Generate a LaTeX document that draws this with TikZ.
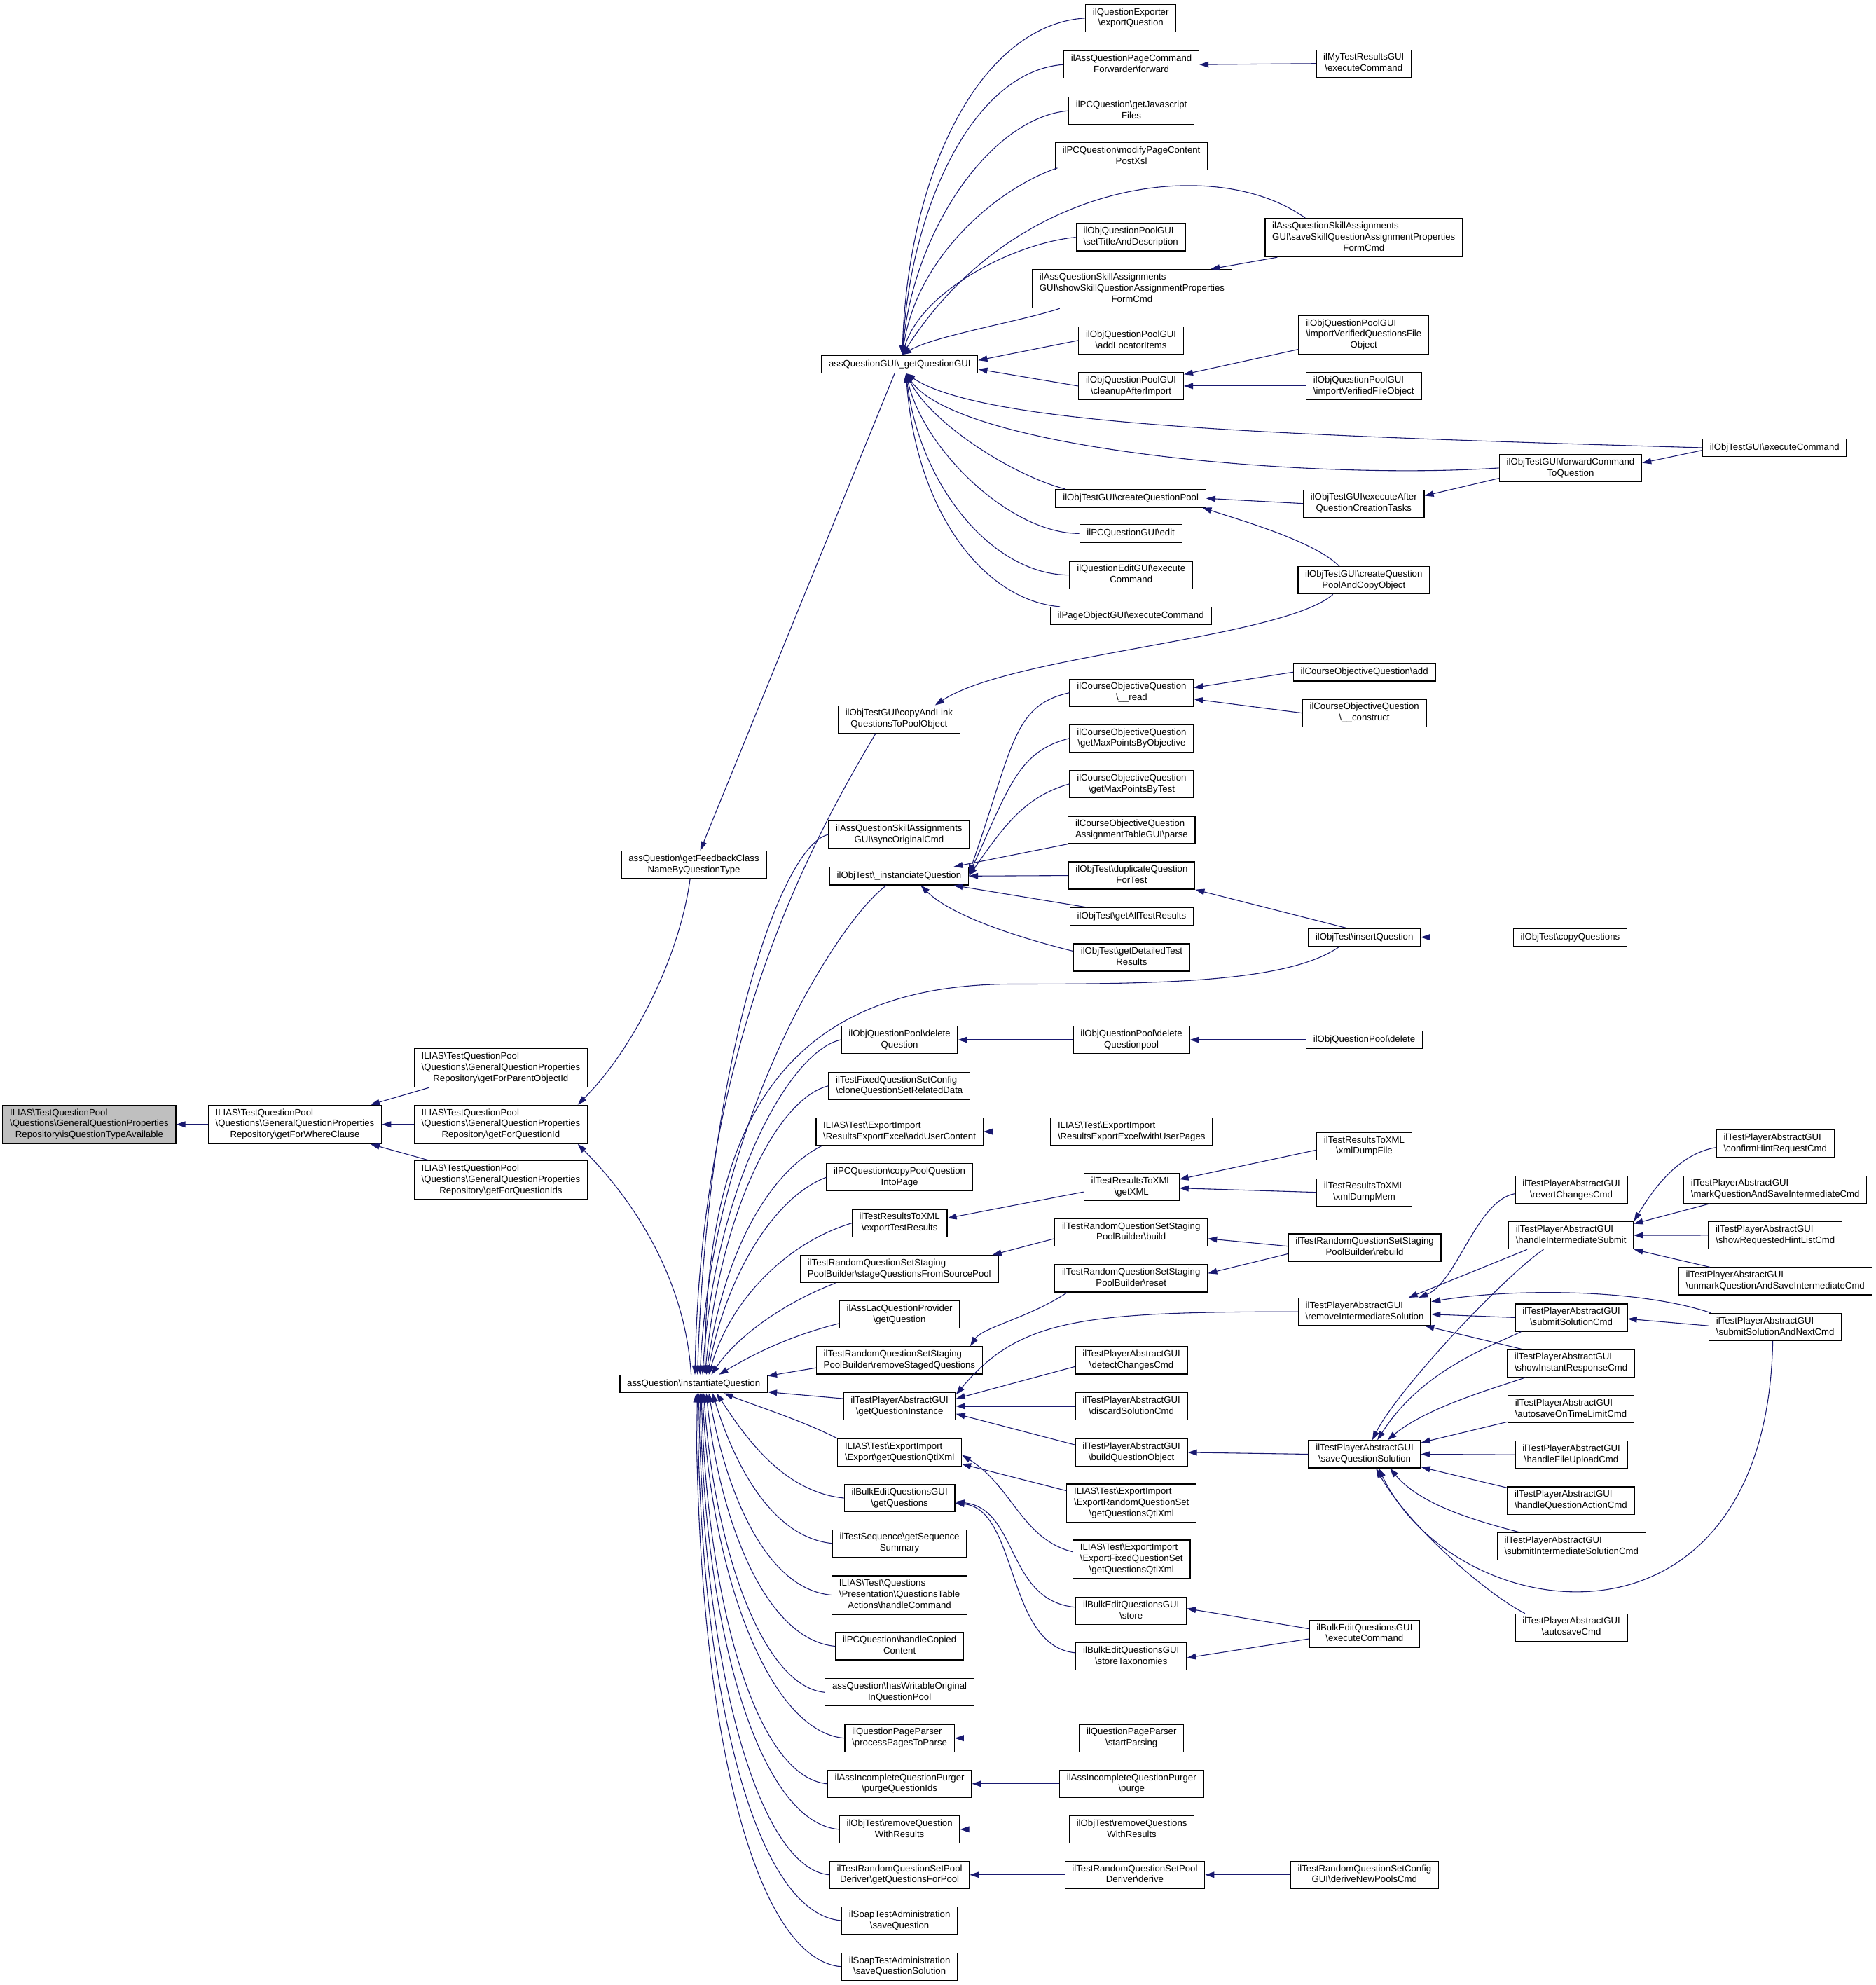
\documentclass[tikz,border=0pt]{standalone}
\usepackage{fontspec}
\setmainfont{Liberation Sans}
\usetikzlibrary{arrows.meta,calc}
\definecolor{edgec}{HTML}{191970}
\definecolor{rootc}{HTML}{BFBFBF}
\newcommand\bsl{\textbackslash}
\newcommand\twol[2]{\begin{tabular}{@{}l@{}}#1\\\multicolumn{1}{@{}c@{}}{#2}\end{tabular}}
\newcommand\threel[3]{\begin{tabular}{@{}l@{}}#1\\#2\\\multicolumn{1}{@{}c@{}}{#3}\end{tabular}}
\tikzset{
  fn/.style={draw=black, fill=white, line width=0.7pt, font=\fontsize{7.3}{8.8}\selectfont,
    inner xsep=5.7pt, inner ysep=2pt, minimum height=14pt},
  root/.style={fn, fill=rootc},
  e/.style={draw=edgec, line width=0.6pt, -{Triangle[length=7.2pt,width=4.8pt]}},
}
\begin{document}
\begin{tikzpicture}[x=1pt,y=-1pt]
\useasboundingbox (0,0) rectangle (1481,1567.3);

% ---------- left part
\node[root] (n0) at (70.5,887.8) {\threel{ILIAS\bsl{}TestQuestionPool}{\bsl{}Questions\bsl{}GeneralQuestionProperties}{Repository\bsl{}isQuestionTypeAvailable}};
\node[fn] (n1) at (232.9,887.8) {\threel{ILIAS\bsl{}TestQuestionPool}{\bsl{}Questions\bsl{}GeneralQuestionProperties}{Repository\bsl{}getForWhereClause}};
\node[fn] (n2a) at (395.5,843.2) {\threel{ILIAS\bsl{}TestQuestionPool}{\bsl{}Questions\bsl{}GeneralQuestionProperties}{Repository\bsl{}getForParentObjectId}};
\node[fn] (n2b) at (395.5,887.8) {\threel{ILIAS\bsl{}TestQuestionPool}{\bsl{}Questions\bsl{}GeneralQuestionProperties}{Repository\bsl{}getForQuestionId}};
\node[fn] (n2c) at (395.5,931.7) {\threel{ILIAS\bsl{}TestQuestionPool}{\bsl{}Questions\bsl{}GeneralQuestionProperties}{Repository\bsl{}getForQuestionIds}};
\node[fn] (fb) at (548,682.7) {\twol{assQuestion\bsl{}getFeedbackClass}{NameByQuestionType}};
\node[fn] (inst) at (547.8,1092.7) {assQuestion\bsl{}instantiateQuestion};
\node[fn] (q) at (710.5,287.5) {assQuestionGUI\bsl{}\_getQuestionGUI};

% ---------- callers of _getQuestionGUI
\node[fn] (exq) at (893,14.3) {\twol{ilQuestionExporter}{\bsl{}exportQuestion}};
\node[fn] (fwd) at (893.5,51) {\twol{ilAssQuestionPageCommand}{Forwarder\bsl{}forward}};
\node[fn] (mytr) at (1077,50.2) {\twol{ilMyTestResultsGUI}{\bsl{}executeCommand}};
\node[fn] (js) at (893.5,87.5) {\twol{ilPCQuestion\bsl{}getJavascript}{Files}};
\node[fn] (mpc) at (893.5,123.5) {\twol{ilPCQuestion\bsl{}modifyPageContent}{PostXsl}};
\node[fn] (sss) at (1077,187.6) {\threel{ilAssQuestionSkillAssignments}{GUI\bsl{}saveSkillQuestionAssignmentProperties}{FormCmd}};
\node[fn] (std) at (893,187.3) {\twol{ilObjQuestionPoolGUI}{\bsl{}setTitleAndDescription}};
\node[fn] (shs) at (894,228) {\threel{ilAssQuestionSkillAssignments}{GUI\bsl{}showSkillQuestionAssignmentProperties}{FormCmd}};
\node[fn] (ali) at (893.2,268.8) {\twol{ilObjQuestionPoolGUI}{\bsl{}addLocatorItems}};
\node[fn] (cai) at (893.2,304.8) {\twol{ilObjQuestionPoolGUI}{\bsl{}cleanupAfterImport}};
\node[fn] (ivq) at (1077,264.3) {\threel{ilObjQuestionPoolGUI}{\bsl{}importVerifiedQuestionsFile}{Object}};
\node[fn] (ivf) at (1077,304.8) {\twol{ilObjQuestionPoolGUI}{\bsl{}importVerifiedFileObject}};
\node[fn] (otec) at (1401.5,353.5) {ilObjTestGUI\bsl{}executeCommand};
\node[fn] (fctq) at (1240.3,369.5) {\twol{ilObjTestGUI\bsl{}forwardCommand}{ToQuestion}};
\node[fn] (cqp) at (893,393.5) {ilObjTestGUI\bsl{}createQuestionPool};
\node[fn] (eaq) at (1077,397.6) {\twol{ilObjTestGUI\bsl{}executeAfter}{QuestionCreationTasks}};
\node[fn] (pce) at (893,421.2) {ilPCQuestionGUI\bsl{}edit};
\node[fn] (qec) at (893.3,454) {\twol{ilQuestionEditGUI\bsl{}execute}{Command}};
\node[fn] (poc) at (893,486.4) {ilPageObjectGUI\bsl{}executeCommand};
\node[fn] (cqpc) at (1077,458.2) {\twol{ilObjTestGUI\bsl{}createQuestion}{PoolAndCopyObject}};

% ---------- middle column
\node[fn] (cal) at (710,568) {\twol{ilObjTestGUI\bsl{}copyAndLink}{QuestionsToPoolObject}};
\node[fn] (soc) at (710,659) {\twol{ilAssQuestionSkillAssignments}{GUI\bsl{}syncOriginalCmd}};
\node[fn] (iqObj) at (710,691.7) {ilObjTest\bsl{}\_instanciateQuestion};
\node[fn] (rd) at (893.7,547) {\twol{ilCourseObjectiveQuestion}{\bsl{}\_\_read}};
\node[fn] (mpo) at (893.7,583) {\twol{ilCourseObjectiveQuestion}{\bsl{}getMaxPointsByObjective}};
\node[fn] (mpt) at (893.7,619) {\twol{ilCourseObjectiveQuestion}{\bsl{}getMaxPointsByTest}};
\node[fn] (atp) at (893.7,655.3) {\twol{ilCourseObjectiveQuestion}{AssignmentTableGUI\bsl{}parse}};
\node[fn] (dqt) at (893.7,691.3) {\twol{ilObjTest\bsl{}duplicateQuestion}{ForTest}};
\node[fn] (atr) at (893.7,723.8) {ilObjTest\bsl{}getAllTestResults};
\node[fn] (dtr) at (893.7,756) {\twol{ilObjTest\bsl{}getDetailedTest}{Results}};
\node[fn] (cadd) at (1077.5,530.7) {ilCourseObjectiveQuestion\bsl{}add};
\node[fn] (ccon) at (1077.5,563) {\twol{ilCourseObjectiveQuestion}{\bsl{}\_\_construct}};
\node[fn] (insq) at (1077.5,740) {ilObjTest\bsl{}insertQuestion};
\node[fn] (cpq) at (1240,740) {ilObjTest\bsl{}copyQuestions};

\node[fn] (dq) at (710.4,821) {\twol{ilObjQuestionPool\bsl{}delete}{Question}};
\node[fn] (dqp) at (893.5,821) {\twol{ilObjQuestionPool\bsl{}delete}{Questionpool}};
\node[fn] (qpd) at (1077.4,821) {ilObjQuestionPool\bsl{}delete};
\node[fn] (cqs) at (710.2,857.4) {\twol{ilTestFixedQuestionSetConfig}{\bsl{}cloneQuestionSetRelatedData}};
\node[fn] (auc) at (710.4,893.5) {\twol{ILIAS\bsl{}Test\bsl{}ExportImport}{\bsl{}ResultsExportExcel\bsl{}addUserContent}};
\node[fn] (wup) at (893.6,893.5) {\twol{ILIAS\bsl{}Test\bsl{}ExportImport}{\bsl{}ResultsExportExcel\bsl{}withUserPages}};
\node[fn] (cpqi) at (710.4,929.6) {\twol{ilPCQuestion\bsl{}copyPoolQuestion}{IntoPage}};
\node[fn] (etr) at (710.4,965.8) {\twol{ilTestResultsToXML}{\bsl{}exportTestResults}};
\node[fn] (gx) at (893.6,937.1) {\twol{ilTestResultsToXML}{\bsl{}getXML}};
\node[fn] (xdf) at (1077.4,905) {\twol{ilTestResultsToXML}{\bsl{}xmlDumpFile}};
\node[fn] (xdm) at (1077.4,941.4) {\twol{ilTestResultsToXML}{\bsl{}xmlDumpMem}};
\node[fn] (sqs) at (710.2,1002) {\twol{ilTestRandomQuestionSetStaging}{PoolBuilder\bsl{}stageQuestionsFromSourcePool}};
\node[fn] (bld) at (893.3,973) {\twol{ilTestRandomQuestionSetStaging}{PoolBuilder\bsl{}build}};
\node[fn] (rbl) at (1077.7,985) {\twol{ilTestRandomQuestionSetStaging}{PoolBuilder\bsl{}rebuild}};
\node[fn] (rst) at (893.3,1009.4) {\twol{ilTestRandomQuestionSetStaging}{PoolBuilder\bsl{}reset}};
\node[fn] (lqp) at (710.4,1038) {\twol{ilAssLacQuestionProvider}{\bsl{}getQuestion}};
\node[fn] (rsq) at (710.3,1074) {\twol{ilTestRandomQuestionSetStaging}{PoolBuilder\bsl{}removeStagedQuestions}};
\node[fn] (gqi) at (710.4,1110.3) {\twol{ilTestPlayerAbstractGUI}{\bsl{}getQuestionInstance}};
\node[fn] (dcc) at (893.5,1074) {\twol{ilTestPlayerAbstractGUI}{\bsl{}detectChangesCmd}};
\node[fn] (dsc) at (893.5,1110.3) {\twol{ilTestPlayerAbstractGUI}{\bsl{}discardSolutionCmd}};
\node[fn] (bqo) at (893.5,1146.8) {\twol{ilTestPlayerAbstractGUI}{\bsl{}buildQuestionObject}};
\node[fn] (gqq) at (710.4,1146.8) {\twol{ILIAS\bsl{}Test\bsl{}ExportImport}{\bsl{}Export\bsl{}getQuestionQtiXml}};
\node[fn] (erq) at (893.6,1187) {\threel{ILIAS\bsl{}Test\bsl{}ExportImport}{\bsl{}ExportRandomQuestionSet}{\bsl{}getQuestionsQtiXml}};
\node[fn] (efq) at (893.6,1231.2) {\threel{ILIAS\bsl{}Test\bsl{}ExportImport}{\bsl{}ExportFixedQuestionSet}{\bsl{}getQuestionsQtiXml}};
\node[fn] (bgq) at (710.4,1182.8) {\twol{ilBulkEditQuestionsGUI}{\bsl{}getQuestions}};
\node[fn] (gss) at (710.4,1218.6) {\twol{ilTestSequence\bsl{}getSequence}{Summary}};
\node[fn] (hc) at (710.4,1259.4) {\threel{ILIAS\bsl{}Test\bsl{}Questions}{\bsl{}Presentation\bsl{}QuestionsTable}{Actions\bsl{}handleCommand}};
\node[fn] (hcc) at (710.4,1299.8) {\twol{ilPCQuestion\bsl{}handleCopied}{Content}};
\node[fn] (hwo) at (710.4,1336.2) {\twol{assQuestion\bsl{}hasWritableOriginal}{InQuestionPool}};
\node[fn] (ppp) at (710.4,1372.4) {\twol{ilQuestionPageParser}{\bsl{}processPagesToParse}};
\node[fn] (sp) at (893.6,1372.4) {\twol{ilQuestionPageParser}{\bsl{}startParsing}};
\node[fn] (pqi) at (710.4,1408.4) {\twol{ilAssIncompleteQuestionPurger}{\bsl{}purgeQuestionIds}};
\node[fn] (pur) at (893.6,1408.4) {\twol{ilAssIncompleteQuestionPurger}{\bsl{}purge}};
\node[fn] (rqw) at (710.4,1444.4) {\twol{ilObjTest\bsl{}removeQuestion}{WithResults}};
\node[fn] (rqsw) at (893.8,1444.4) {\twol{ilObjTest\bsl{}removeQuestions}{WithResults}};
\node[fn] (gqp) at (710.4,1480.3) {\twol{ilTestRandomQuestionSetPool}{Deriver\bsl{}getQuestionsForPool}};
\node[fn] (der) at (896.2,1480.3) {\twol{ilTestRandomQuestionSetPool}{Deriver\bsl{}derive}};
\node[fn] (dnp) at (1077.6,1480.3) {\twol{ilTestRandomQuestionSetConfig}{GUI\bsl{}deriveNewPoolsCmd}};
\node[fn] (stq) at (710.4,1516.4) {\twol{ilSoapTestAdministration}{\bsl{}saveQuestion}};
\node[fn] (sqsl) at (710.4,1552.8) {\twol{ilSoapTestAdministration}{\bsl{}saveQuestionSolution}};
\node[fn] (bst) at (893.3,1272) {\twol{ilBulkEditQuestionsGUI}{\bsl{}store}};
\node[fn] (bstt) at (893.3,1308) {\twol{ilBulkEditQuestionsGUI}{\bsl{}storeTaxonomies}};
\node[fn] (bec) at (1077.6,1290) {\twol{ilBulkEditQuestionsGUI}{\bsl{}executeCommand}};

% ---------- player part
\node[fn] (ris) at (1077.7,1035.7) {\twol{ilTestPlayerAbstractGUI}{\bsl{}removeIntermediateSolution}};
\node[fn] (sqsol) at (1077.7,1148.2) {\twol{ilTestPlayerAbstractGUI}{\bsl{}saveQuestionSolution}};
\node[fn] (rcc) at (1240.9,939.5) {\twol{ilTestPlayerAbstractGUI}{\bsl{}revertChangesCmd}};
\node[fn] (his) at (1240.7,975.4) {\twol{ilTestPlayerAbstractGUI}{\bsl{}handleIntermediateSubmit}};
\node[fn] (ssc) at (1240.9,1040.3) {\twol{ilTestPlayerAbstractGUI}{\bsl{}submitSolutionCmd}};
\node[fn] (sir) at (1240.6,1076.4) {\twol{ilTestPlayerAbstractGUI}{\bsl{}showInstantResponseCmd}};
\node[fn] (aot) at (1240.6,1112.5) {\twol{ilTestPlayerAbstractGUI}{\bsl{}autosaveOnTimeLimitCmd}};
\node[fn] (hfu) at (1240.9,1148.6) {\twol{ilTestPlayerAbstractGUI}{\bsl{}handleFileUploadCmd}};
\node[fn] (hqa) at (1240.6,1184.8) {\twol{ilTestPlayerAbstractGUI}{\bsl{}handleQuestionActionCmd}};
\node[fn] (sis) at (1241,1221) {\twol{ilTestPlayerAbstractGUI}{\bsl{}submitIntermediateSolutionCmd}};
\node[fn] (asc) at (1240.9,1285) {\twol{ilTestPlayerAbstractGUI}{\bsl{}autosaveCmd}};
\node[fn] (chr) at (1402,903) {\twol{ilTestPlayerAbstractGUI}{\bsl{}confirmHintRequestCmd}};
\node[fn] (mqs) at (1402,939.2) {\twol{ilTestPlayerAbstractGUI}{\bsl{}markQuestionAndSaveIntermediateCmd}};
\node[fn] (srh) at (1402,975.3) {\twol{ilTestPlayerAbstractGUI}{\bsl{}showRequestedHintListCmd}};
\node[fn] (uqs) at (1402,1011.6) {\twol{ilTestPlayerAbstractGUI}{\bsl{}unmarkQuestionAndSaveIntermediateCmd}};
\node[fn] (ssn) at (1402,1047.8) {\twol{ilTestPlayerAbstractGUI}{\bsl{}submitSolutionAndNextCmd}};

% ================= edges
% root area
\draw[e] (n1.west) -- (n0.east);
\draw[e] ($(n2a.south west)+(12,0)$) -- ($(n1.north east)+(-9,0)$);
\draw[e] (n2b.west) -- (n1.east);
\draw[e] ($(n2c.north west)+(12,0)$) -- ($(n1.south east)+(-9,0)$);
\draw[e] ($(fb.south)+(-3,0)$) .. controls +(-8,60) and +(45,-45) .. ($(n2b.north east)+(-8,0)$);
\draw[e] ($(inst.north)+(-2,0)$) .. controls +(-5,-80) and +(40,40) .. ($(n2b.south east)+(-8,0)$);
\draw[e] ($(q.south)+(-4,0)$) -- ($(fb.north)+(5,0)$);

% to _getQuestionGUI
\coordinate (qt) at ($(q.north)+(2,0)$);
\coordinate (qb) at ($(q.south)+(5,0)$);
\draw[e] (exq.west) .. controls +(-80,5) and +(5,-150) .. (qt);
\draw[e] (fwd.west) .. controls +(-70,5) and +(7,-120) .. (qt);
\draw[e] (js.west) .. controls +(-60,5) and +(9,-100) .. (qt);
\draw[e] ($(mpc.south west)+(2,-2)$) .. controls +(-45,15) and +(12,-80) .. (qt);
\draw[e] ($(sss.north west)+(32,0)$) .. controls +(-70,-50) and +(90,-140) .. (qt);
\draw[e] (std.west) .. controls +(-50,5) and +(15,-50) .. (qt);
\draw[e] ($(shs.south west)+(22,0)$) .. controls +(-30,10) and +(25,-15) .. (qt);
\draw[e] (ali.west) -- ($(q.east)+(0,-3)$);
\draw[e] (cai.west) -- ($(q.east)+(0,4)$);
\draw[e] (otec.west) .. controls +(-350,-10) and +(60,40) .. (qb);
\draw[e] (fctq.west) .. controls +(-150,10) and +(40,60) .. (qb);
\draw[e] ($(cqp.north west)+(8,0)$) .. controls +(-40,-10) and +(20,40) .. (qb);
\draw[e] (pce.west) .. controls +(-55,0) and +(14,60) .. (qb);
\draw[e] (qec.west) .. controls +(-60,0) and +(11,90) .. (qb);
\draw[e] ($(poc.north west)+(8,0)$) .. controls +(-60,-5) and +(8,110) .. (qb);

\draw[e] (mytr.west) -- (fwd.east);
\draw[e] ($(sss.south west)+(10,0)$) -- ($(shs.north east)+(-17,0)$);
\draw[e] ($(ivq.south west)+(0,-4)$) -- ($(cai.north east)+(0,2)$);
\draw[e] (ivf.west) -- (cai.east);
\draw[e] ($(otec.west)+(0,2)$) -- ($(fctq.east)+(0,-4)$);
\draw[e] ($(fctq.south west)+(0,-3)$) -- ($(eaq.north east)+(0,5)$);
\draw[e] (eaq.west) -- (cqp.east);
\draw[e] ($(cqpc.north west)+(33,0)$) .. controls +(-20,-20) and +(30,10) .. ($(cqp.south east)+(-3,0)$);
\draw[e] ($(cqpc.south west)+(28,0)$) .. controls +(-40,35) and +(60,-40) .. ($(cal.north east)+(-20,0)$);

% to _instanciateQuestion
\draw[e] (rd.west) .. controls +(-45,10) and +(35,-100) .. ($(iqObj.east)+(0,-2)$);
\draw[e] (mpo.west) .. controls +(-40,10) and +(32,-70) .. ($(iqObj.east)+(0,-1)$);
\draw[e] (mpt.west) .. controls +(-35,10) and +(28,-40) .. (iqObj.east);
\draw[e] (atp.south west) -- ($(iqObj.north east)+(-12,0)$);
\draw[e] (dqt.west) -- (iqObj.east);
\draw[e] ($(atr.north west)+(14,0)$) -- ($(iqObj.south east)+(-12,0)$);
\draw[e] ($(dtr.west)+(0,-5)$) .. controls +(-40,-10) and +(25,25) .. ($(iqObj.south east)+(-38,0)$);
\draw[e] (cadd.west) -- ($(rd.east)+(0,-4)$);
\draw[e] (ccon.west) -- ($(rd.east)+(0,5)$);
\draw[e] ($(insq.north west)+(30,0)$) -- (dqt.south east);
\draw[e] (cpq.west) -- (insq.east);
\coordinate (via1) at (800,777);
\draw[e] ($(insq.south west)+(25,0)$) .. controls +(-40,28) and +(120,0) .. (via1) .. controls +(-180,0) and +(0,-200) .. ($(inst.north)+(9,0)$);

% to instantiateQuestion, from above
\draw[e] ($(cal.south west)+(30,0)$) .. controls +(-60,100) and +(5,-250) .. ($(inst.north)+(1,0)$);
\draw[e] (soc.west) .. controls +(-37,8) and +(8,-250) .. ($(inst.north)+(3,0)$);
\draw[e] ($(iqObj.south)+(-10,0)$) .. controls +(-40,30) and +(10,-200) .. ($(inst.north)+(5,0)$);
\draw[e] (dq.west) .. controls +(-40,8) and +(10,-150) .. ($(inst.north)+(7,0)$);
\draw[e] (cqs.west) .. controls +(-40,10) and +(12,-130) .. ($(inst.north)+(9,0)$);
\draw[e] ($(auc.south west)+(5,0)$) .. controls +(-40,20) and +(14,-100) .. ($(inst.north)+(10,0)$);
\draw[e] (cpqi.west) .. controls +(-40,15) and +(15,-80) .. ($(inst.north)+(11,0)$);
\draw[e] (etr.west) .. controls +(-50,15) and +(17,-60) .. ($(inst.north)+(12,0)$);
\draw[e] ($(sqs.south west)+(28,0)$) .. controls +(-40,15) and +(20,-30) .. ($(inst.north)+(14,0)$);
\draw[e] ($(lqp.west)+(0,7)$) .. controls +(-40,10) and +(25,-15) .. ($(inst.north)+(20,0)$);
\draw[e] ($(rsq.west)+(0,6)$) -- ($(inst.north east)+(0,1)$);
\draw[e] ($(gqi.west)+(0,-6)$) -- ($(inst.south east)+(0,-1)$);
% from below
\draw[e] (gqq.north west) .. controls +(-30,-15) and +(25,10) .. ($(inst.south)+(24,0)$);
\draw[e] (bgq.west) .. controls +(-50,-5) and +(20,30) .. ($(inst.south)+(18,0)$);
\draw[e] (gss.west) .. controls +(-50,-5) and +(15,50) .. ($(inst.south)+(15,0)$);
\draw[e] (hc.west) .. controls +(-55,-5) and +(12,70) .. ($(inst.south)+(12,0)$);
\draw[e] (hcc.west) .. controls +(-55,-5) and +(10,100) .. ($(inst.south)+(10,0)$);
\draw[e] (hwo.west) .. controls +(-50,-5) and +(8,120) .. ($(inst.south)+(8,0)$);
\draw[e] (ppp.west) .. controls +(-60,-5) and +(6,140) .. ($(inst.south)+(7,0)$);
\draw[e] (pqi.west) .. controls +(-55,-5) and +(5,170) .. ($(inst.south)+(6,0)$);
\draw[e] (rqw.west) .. controls +(-60,-5) and +(4,200) .. ($(inst.south)+(5,0)$);
\draw[e] (gqp.west) .. controls +(-55,-5) and +(3,220) .. ($(inst.south)+(4,0)$);
\draw[e] (stq.west) .. controls +(-65,-5) and +(2,250) .. ($(inst.south)+(3,0)$);
\draw[e] (sqsl.west) .. controls +(-65,-5) and +(1,280) .. ($(inst.south)+(2,0)$);

% middle chains
\draw[e] (dqp.west) -- (dq.east);
\draw[e] (qpd.west) -- (dqp.east);
\draw[e] (wup.west) -- (auc.east);
\draw[e] ($(gx.west)+(0,4)$) -- ($(etr.east)+(0,-4)$);
\draw[e] ($(xdf.west)+(0,3)$) -- ($(gx.east)+(0,-6)$);
\draw[e] (xdm.west) -- ($(gx.east)+(0,1)$);
\draw[e] ($(bld.west)+(0,5)$) -- ($(sqs.north east)+(-5,0)$);
\draw[e] ($(rbl.west)+(0,-1)$) -- ($(bld.east)+(0,5)$);
\draw[e] ($(rbl.west)+(0,5)$) -- ($(rst.east)+(0,-4)$);
\draw[e] ($(rst.south west)+(10,0)$) .. controls +(-30,20) and +(10,-15) .. ($(rsq.north east)+(-10,0)$);
\draw[e] (ris.west) .. controls +(-170,0) and +(50,-60) .. ($(gqi.north east)+(0,2)$);
\draw[e] ($(dcc.west)+(0,5)$) -- ($(gqi.east)+(0,-6)$);
\draw[e] (dsc.west) -- (gqi.east);
\draw[e] ($(bqo.west)+(0,-6)$) -- ($(gqi.east)+(0,6)$);
\draw[e] (sqsol.west) -- (bqo.east);
\draw[e] ($(erq.west)+(0,-10)$) -- ($(gqq.south east)+(0,-2)$);
\draw[e] ($(efq.west)+(0,-6)$) .. controls +(-40,-10) and +(40,25) .. ($(gqq.east)+(0,2)$);
\draw[e] ($(bst.west)+(0,-3)$) .. controls +(-55,-5) and +(50,5) .. ($(bgq.east)+(0,3)$);
\draw[e] ($(bstt.west)+(0,-3)$) .. controls +(-55,-5) and +(50,5) .. ($(bgq.east)+(0,4)$);
\draw[e] ($(bec.west)+(0,-4)$) -- ($(bst.east)+(0,-2)$);
\draw[e] ($(bec.west)+(0,4)$) -- ($(bstt.east)+(0,1)$);
\draw[e] (sp.west) -- (ppp.east);
\draw[e] (pur.west) -- (pqi.east);
\draw[e] (rqsw.west) -- (rqw.east);
\draw[e] (der.west) -- (gqp.east);
\draw[e] (dnp.west) -- (der.east);

% player
\draw[e] ($(rcc.west)+(0,3)$) .. controls +(-30,5) and +(30,-12) .. ($(ris.north east)+(-10,0)$);
\draw[e] ($(his.south west)+(15,0)$) -- ($(ris.north east)+(-18,0)$);
\draw[e] ($(his.south west)+(28,0)$) .. controls +(-30,20) and +(20,-40) .. ($(sqsol.north)+(6,0)$);
\draw[e] ($(ssn.north west)+(2,0)$) .. controls +(-60,-20) and +(60,-10) .. ($(ris.east)+(0,-8)$);
\draw[e] (ssc.west) -- ($(ris.east)+(0,2)$);
\draw[e] ($(sir.north west)+(12,0)$) -- ($(ris.south east)+(-5,0)$);
\draw[e] ($(ssc.south west)+(5,0)$) .. controls +(-25,12) and +(35,-55) .. ($(sqsol.north)+(10,0)$);
\draw[e] ($(sir.south west)+(15,0)$) .. controls +(-30,10) and +(30,-25) .. ($(sqsol.north)+(18,0)$);
\draw[e] ($(aot.south west)+(0,-1)$) -- ($(sqsol.north east)+(0,2)$);
\draw[e] (hfu.west) -- (sqsol.east);
\draw[e] ($(hqa.north west)+(0,1)$) -- ($(sqsol.south east)+(0,-1)$);
\draw[e] ($(sis.north west)+(18,0)$) .. controls +(-30,-8) and +(25,30) .. ($(sqsol.south)+(20,0)$);
\draw[e] ($(asc.north west)+(8,0)$) .. controls +(-30,-15) and +(25,45) .. ($(sqsol.south)+(9,0)$);
\draw[e] ($(ssn.south)+(-2,0)$) .. controls +(-5,260) and +(62,128) .. ($(sqsol.south)+(11,0)$);
\draw[e] ($(chr.west)+(0,3)$) .. controls +(-30,5) and +(15,-25) .. (his.north east);
\draw[e] ($(mqs.south west)+(21,0)$) -- ($(his.north east)+(0,2)$);
\draw[e] (srh.west) -- (his.east);
\draw[e] ($(uqs.north west)+(25,0)$) -- (his.south east);
\draw[e] ($(ssn.west)+(0,-1)$) -- ($(ssc.east)+(0,1)$);
\end{tikzpicture}
\end{document}
